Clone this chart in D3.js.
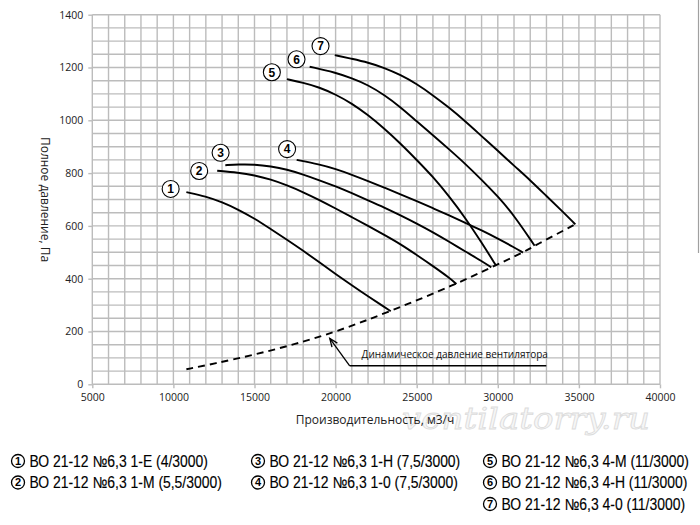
<!DOCTYPE html>
<html lang="ru">
<head>
    <meta charset="utf-8">
    <script src="https://cdn.jsdelivr.net/npm/d3@7/dist/d3.min.js"></script>
    <style>
        body { margin: 0; background: #fff; }
        text { font-family: "Open Sans", "Liberation Sans", sans-serif; }
    </style>
</head>
<body>
<script>
    let w = 700;
    let h = 525;

    // axis ticks
    let qTicks = [5000, 10000, 15000, 20000, 25000, 30000, 35000, 40000];
    let pTicks = [0, 200, 400, 600, 800, 1000, 1200, 1400];

    // fan curves, [Q m3/h, P Pa]
    let curve1 = [[10800,728],[12000,712],[13000,690],[14000,662],[15000,628],[16000,588],[17000,548],[18000,506],[19000,462],[20000,418],[21000,375],[22000,333],[23000,293],[23400,277]];
    let curve2 = [[12700,809],[14000,802],[15000,792],[16000,776],[17000,754],[18000,728],[19000,698],[20000,666],[21000,633],[22000,600],[23000,566],[24000,531],[25000,490],[26000,448],[27000,404],[27450,380]];
    let curve3 = [[13200,830],[14000,833],[15000,833],[16000,826],[17000,814],[18000,795],[19000,773],[20000,750],[21000,724],[22000,697],[23000,670],[24000,640],[25000,609],[26000,576],[27000,540],[28000,503],[29000,467],[29600,443]];
    let curve4 = [[17600,850],[19000,833],[20000,816],[21000,794],[22000,770],[23000,745],[24000,720],[25000,694],[26000,667],[27000,640],[28000,612],[29000,583],[30000,552],[31000,519],[31550,499]];
    let curve5 = [[17000,1156],[18000,1142],[19000,1125],[20000,1098],[21000,1064],[22000,1020],[23000,969],[24000,912],[25000,850],[26000,786],[27000,712],[28000,630],[29000,537],[29900,449]];
    let curve6 = [[18400,1203],[20000,1181],[21000,1159],[22000,1134],[23000,1096],[24000,1050],[25000,996],[26000,944],[27000,890],[28000,835],[29000,775],[30000,712],[31000,640],[32270,525]];
    let curve7 = [[19950,1247],[21000,1233],[22000,1219],[23000,1199],[24000,1172],[25000,1138],[26000,1095],[27000,1048],[28000,996],[29000,940],[30000,885],[31000,828],[32000,773],[33000,713],[34000,654],[34780,606]];
    let curves = [curve1, curve2, curve3, curve4, curve5, curve6, curve7];

    // dynamic pressure (dashed)
    let dynamic = [[10800,57],[12500,78],[15000,112],[17500,152],[20000,198],[23400,277],[27450,380],[29600,443],[31550,499],[32270,525],[34780,606]];

    // numbered marks beside the curves
    let markQ = [9830, 11590, 12910, 17010, 16070, 17590, 19070];
    let markP = [740, 808, 877, 891, 1182, 1231, 1281];

    // annotation of the dashed line
    let noteText = "Динамическое давление вентилятора";
    let noteArrow = [[20870, 70], [19640, 174]];
    let noteLine = [[20870, 70], [32990, 70]];
    let noteAt = [21600, 98];

    let legendNames = [
        "ВО 21-12 №6,3 1-Е (4/3000)",
        "ВО 21-12 №6,3 1-М (5,5/3000)",
        "ВО 21-12 №6,3 1-Н (7,5/3000)",
        "ВО 21-12 №6,3 1-0 (7,5/3000)",
        "ВО 21-12 №6,3 4-М (11/3000)",
        "ВО 21-12 №6,3 4-Н (11/3000)",
        "ВО 21-12 №6,3 4-0 (11/3000)"
    ];

    let svg = d3.select("body").append("svg")
        .attr("width", w)
        .attr("height", h);

    let x = d3.scaleLinear().domain([5000, 40000]).range([92.3, 660]);
    let y = d3.scaleLinear().domain([0, 1400]).range([384.3, 14.7]);

    let gridColor = "#bcbcbc";

    // right page edge line
    svg.append("line")
        .attr("x1", 698.5).attr("x2", 698.5)
        .attr("y1", 0).attr("y2", 253)
        .attr("stroke", "#a0a0a0").attr("stroke-width", 1.2);

    // grid
    let grid = svg.append("g");
    grid.selectAll("line.v")
        .data(d3.range(5000, 40001, 1000))
        .join("line")
        .attr("class", "v")
        .attr("x1", d => x(d)).attr("x2", d => x(d))
        .attr("y1", y(0)).attr("y2", y(1400))
        .attr("stroke", gridColor).attr("stroke-width", 1.4);
    grid.selectAll("line.h")
        .data(d3.range(0, 1401, 50))
        .join("line")
        .attr("class", "h")
        .attr("x1", x(5000)).attr("x2", x(40000))
        .attr("y1", d => y(d)).attr("y2", d => y(d))
        .attr("stroke", gridColor).attr("stroke-width", 1.4);

    // watermark
    svg.append("text")
        .attr("x", 402).attr("y", 429)
        .attr("textLength", 248)
        .attr("lengthAdjust", "spacingAndGlyphs")
        .style("font-family", "DejaVu Serif")
        .style("font-style", "italic")
        .style("font-size", "29px")
        .attr("fill", "#f6f6f6")
        .attr("stroke", "#dcdcdc")
        .attr("stroke-width", 0.8)
        .text("ventilatorry.ru");

    // axes
    let yAxis = svg.append("g")
        .attr("transform", "translate(" + x(5000) + ",0)")
        .call(d3.axisLeft(y).tickValues(pTicks).tickSize(4).tickPadding(5).tickFormat(d3.format("d")));
    let xAxis = svg.append("g")
        .attr("transform", "translate(0," + y(0) + ")")
        .call(d3.axisBottom(x).tickValues(qTicks).tickSize(4).tickPadding(5).tickFormat(d3.format("d")));
    [xAxis, yAxis].forEach(function(g) {
        g.select(".domain").remove();
        g.selectAll(".tick line").attr("stroke", gridColor).attr("stroke-width", 1.4);
        g.selectAll(".tick text")
            .attr("fill", "#222")
            .style("font-family", "Open Sans")
            .style("font-size", "10.5px");
    });

    // axis titles
    svg.append("text")
        .attr("transform", "translate(45," + y(700) + ") rotate(90)")
        .attr("text-anchor", "middle")
        .attr("dy", "0.35em")
        .style("font-size", "12px")
        .attr("fill", "#222")
        .text("Полное давление, Па");
    svg.append("text")
        .attr("x", 375).attr("y", 424)
        .attr("text-anchor", "middle")
        .style("font-size", "12px")
        .attr("fill", "#222")
        .text("Производительность, м3/ч");

    // curves
    let line = d3.line()
        .x(d => x(d[0]))
        .y(d => y(d[1]))
        .curve(d3.curveBasis);

    svg.selectAll("path.curve")
        .data(curves)
        .join("path")
        .attr("class", "curve")
        .attr("d", line)
        .attr("fill", "none")
        .attr("stroke", "#000")
        .attr("stroke-width", 1.9);

    svg.append("path")
        .attr("d", line(dynamic))
        .attr("fill", "none")
        .attr("stroke", "#000")
        .attr("stroke-width", 1.9)
        .attr("stroke-dasharray", "7,5");

    // annotation
    let straight = d3.line().x(d => x(d[0])).y(d => y(d[1]));
    svg.append("path")
        .attr("d", straight(noteLine))
        .attr("stroke", "#000").attr("stroke-width", 1.6).attr("fill", "none");
    svg.append("path")
        .attr("d", straight(noteArrow))
        .attr("stroke", "#000").attr("stroke-width", 1.3).attr("fill", "none");
    // arrow head at the tip
    let tx = x(noteArrow[1][0]), ty = y(noteArrow[1][1]);
    let ang = Math.atan2(y(noteArrow[0][1]) - ty, x(noteArrow[0][0]) - tx);
    let headLen = 9, spread = 0.38;
    svg.append("path")
        .attr("d", "M" + (tx + headLen * Math.cos(ang - spread)) + "," + (ty + headLen * Math.sin(ang - spread)) +
            "L" + tx + "," + ty +
            "L" + (tx + headLen * Math.cos(ang + spread)) + "," + (ty + headLen * Math.sin(ang + spread)))
        .attr("stroke", "#000").attr("stroke-width", 1.3).attr("fill", "none");
    svg.append("text")
        .attr("x", x(noteAt[0])).attr("y", y(noteAt[1]))
        .style("font-size", "10px")
        .attr("fill", "#111")
        .text(noteText);

    // numbered marks
    let marks = svg.selectAll("g.mark")
        .data(markQ)
        .join("g")
        .attr("class", "mark")
        .attr("transform", (d, i) => "translate(" + x(d) + "," + y(markP[i]) + ")");
    marks.append("circle")
        .attr("r", 8.5)
        .attr("fill", "#fff")
        .attr("stroke", "#000")
        .attr("stroke-width", 1.1);
    marks.append("text")
        .attr("text-anchor", "middle")
        .attr("dy", "0.36em")
        .style("font-family", "Liberation Sans")
        .style("font-weight", "bold")
        .style("font-size", "12px")
        .text((d, i) => i + 1);

    // legend
    let legX = [18, 258, 490];
    let legY = [461, 482.5, 504];
    let legPos = [[0,0],[0,1],[1,0],[1,1],[2,0],[2,1],[2,2]];
    let legend = svg.selectAll("g.leg")
        .data(legendNames)
        .join("g")
        .attr("class", "leg")
        .attr("transform", (d, i) => "translate(" + legX[legPos[i][0]] + "," + legY[legPos[i][1]] + ")");
    legend.append("circle")
        .attr("r", 6.5)
        .attr("fill", "#fff")
        .attr("stroke", "#000")
        .attr("stroke-width", 1.3);
    legend.append("text")
        .attr("text-anchor", "middle")
        .attr("dy", "0.36em")
        .style("font-family", "Liberation Sans")
        .style("font-weight", "bold")
        .style("font-size", "11px")
        .text((d, i) => i + 1);
    legend.append("text")
        .attr("transform", "translate(11.5,0) scale(0.87,1)")
        .attr("dy", "0.36em")
        .style("font-family", "Liberation Sans")
        .style("font-size", "16px")
        .attr("fill", "#000")
        .attr("stroke", "#000")
        .attr("stroke-width", 0.15)
        .text(d => d);
</script>
</body>
</html>
